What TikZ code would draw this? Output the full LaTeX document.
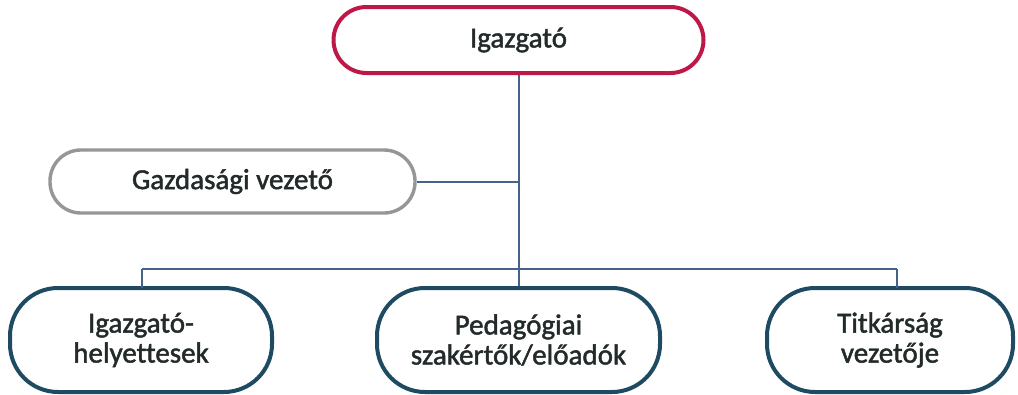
\documentclass[tikz,border=0pt]{standalone}
\usepackage{fontspec}
\setmainfont{Carlito}[Ligatures=NoCommon, FakeBold=1.6]
\definecolor{bossred}{HTML}{BE1848}
\definecolor{grayline}{HTML}{969696}
\definecolor{tealline}{HTML}{1E4B62}
\definecolor{linkcol}{HTML}{45638A}
\definecolor{txt}{HTML}{232B2A}
\begin{document}
\begin{tikzpicture}[x=1pt,y=1pt,
  box/.style={draw, fill=white, text=txt, align=center,
    font=\fontsize{29}{30}\selectfont, inner sep=0pt},
  bossbox/.style={box, draw=bossred, line width=4pt,
    minimum width=370pt, minimum height=66pt, rounded corners=33pt},
  sidebox/.style={box, draw=grayline, line width=3.4pt,
    minimum width=365pt, minimum height=63pt, rounded corners=31pt},
  unitbox/.style={box, draw=tealline, line width=4pt,
    minimum height=104pt, rounded corners=48pt},
  link/.style={draw=linkcol, line width=2pt}]
  % canvas
  \fill[white] (0,0) rectangle (1018,-394);
  \useasboundingbox (0,0) rectangle (1018,-394);

  % ends of the horizontal bus and the drops to the outer boxes
  \coordinate (busL) at (142,-269);
  \coordinate (busR) at (897,-269);
  \coordinate (leftTop) at (142,-288);
  \coordinate (rightTop) at (897,-288);

  % boxes
  \node[bossbox] (boss) at (518.5,-40) {Igazgató};
  \node[sidebox] (gazd) at (232.5,-181.5) {Gazdasági vezető};
  \node[unitbox, minimum width=262pt] (left) at (141,-340)
    {Igazgató-\\helyettesek};
  \node[unitbox, minimum width=283pt] (mid) at (518.5,-340)
    {Pedagógiai\\szakértők/előadók};
  \node[unitbox, minimum width=246pt] (right) at (890,-340)
    {Titkárság\\vezetője};

  % tree lines
  \draw[link] (boss.south) -- (mid.north);
  \draw[link] (gazd.east) -- (gazd.east -| boss.south);
  \draw[link] (busL) -- (busR);
  \draw[link] (busL) -- (leftTop);
  \draw[link] (busR) -- (rightTop);
\end{tikzpicture}
\end{document}
